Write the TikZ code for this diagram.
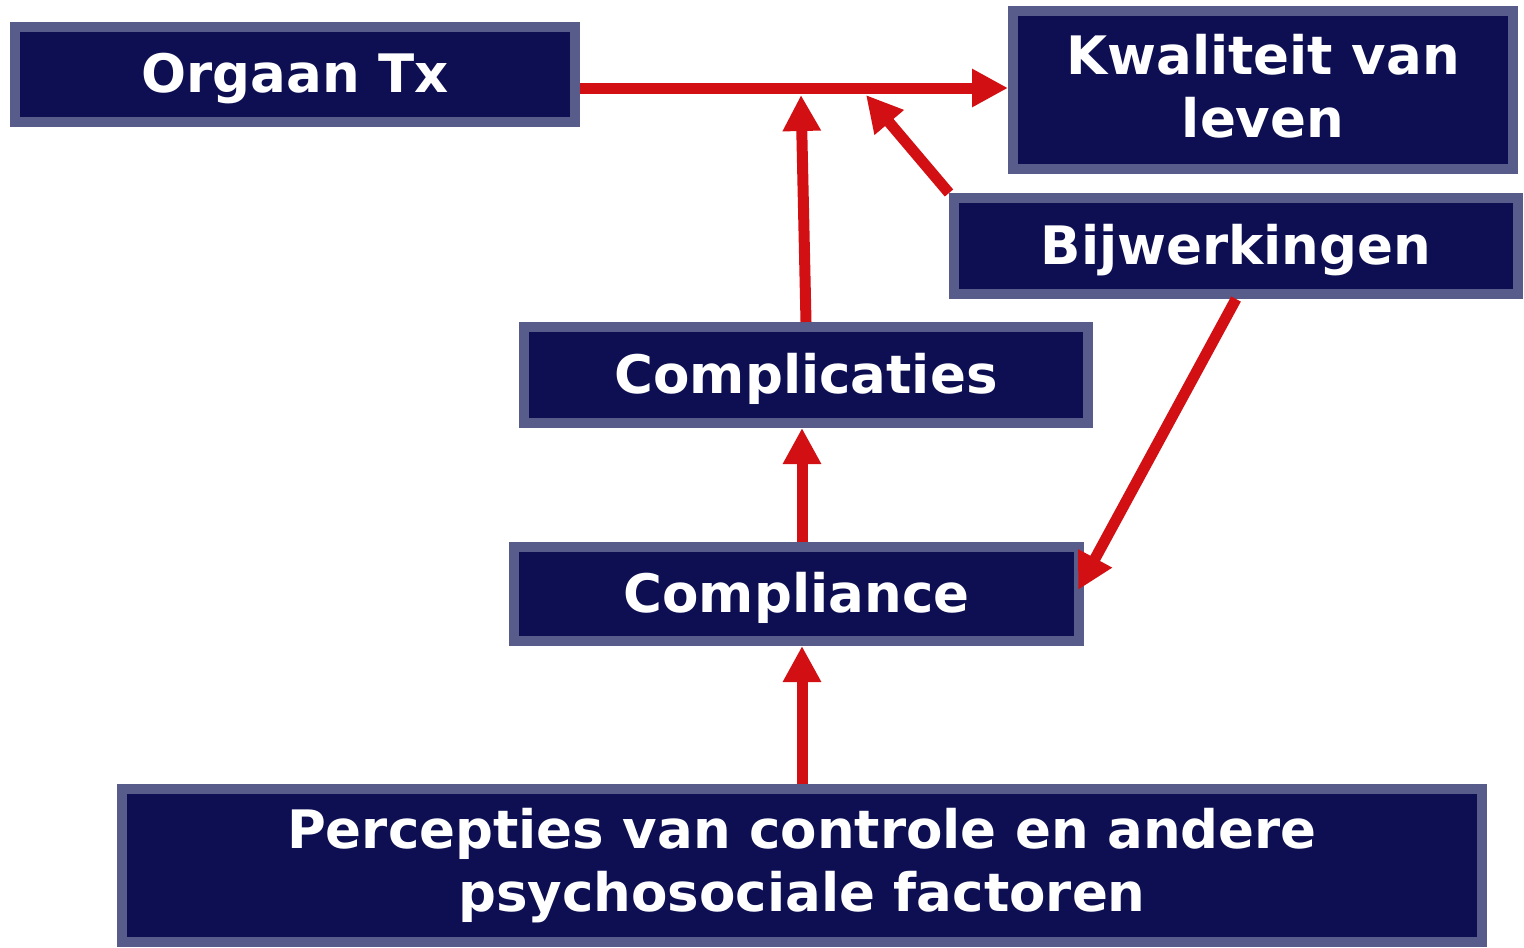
\documentclass[tikz,border=0pt]{standalone}
\usepackage{fontspec}
\setmainfont{DejaVu Sans}
\usetikzlibrary{arrows.meta,calc}
\definecolor{navy}{RGB}{13,15,82}
\definecolor{rim}{RGB}{88,92,138}
\definecolor{arrred}{RGB}{210,16,20}
\begin{document}
\begin{tikzpicture}[x=1pt,y=-1pt,
  box/.style={draw=rim,fill=navy,line width=10pt,text=white,
    font=\fontsize{53}{63.5}\selectfont\bfseries,align=center,inner sep=0pt},
  one/.style={text height=39pt,text depth=3pt},
  arr/.style={draw=arrred,line width=11pt,-{Triangle[length=36pt,width=36pt]}}]
\useasboundingbox (0,0) rectangle (1524,948);
\node[box,one,minimum width=560pt,minimum height=95pt] (org) at (295,74.5) {Orgaan Tx};
\node[box,text depth=8pt,minimum width=500pt,minimum height=158pt] (kwal) at (1263,90) {Kwaliteit van\\leven};
\node[box,one,minimum width=564pt,minimum height=96pt] (bijw) at (1236,246) {Bijwerkingen};
\node[box,one,minimum width=564pt,minimum height=96pt] (cplx) at (806,375) {Complicaties};
\node[box,one,minimum width=565pt,minimum height=94pt] (cmpl) at (796.5,594) {Compliance};
\node[box,minimum width=1360pt,minimum height=153pt] (perc) at (802,865.5) {Percepties van controle en andere\\psychosociale factoren};
\coordinate (j1) at (801,95);
\coordinate (j2) at (866,95);
\draw[arr] (org.east |- 0,88) -- (kwal.west |- 0,88);
\draw[arr] (cplx.north) -- (j1);
\draw[arr] (bijw.north west) -- (j2);
\draw[arr] (perc.north) -- (cmpl.south -| perc.north);
\draw[arr] (cmpl.north -| perc.north) -- (cplx.south -| perc.north);
\draw[arr] (bijw.south) -- ($(cmpl.east)+(-6,-4)$);
\end{tikzpicture}
\end{document}
